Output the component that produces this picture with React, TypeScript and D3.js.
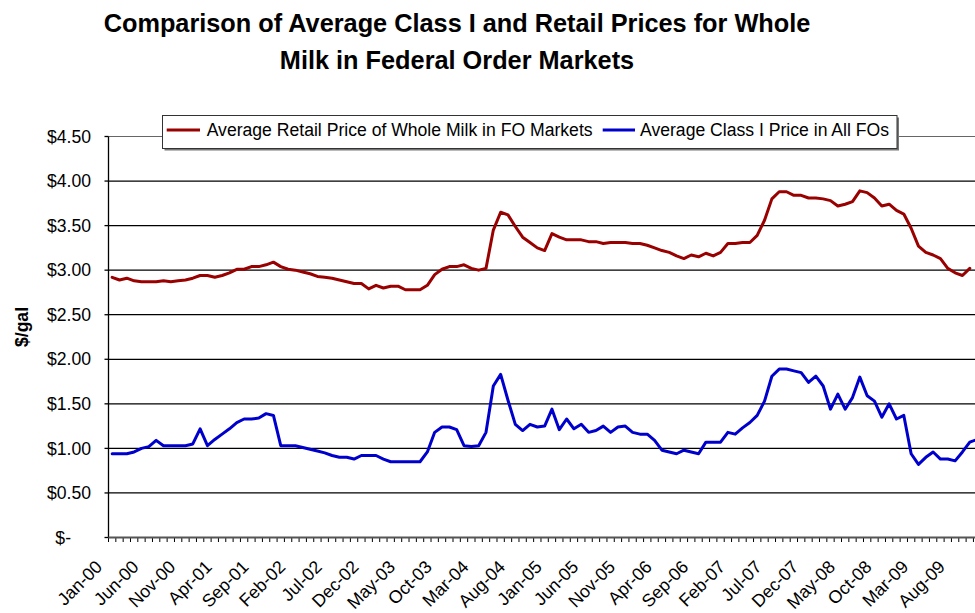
import React from "react";
import * as d3 from "d3";

const startMonth = new Date(2000, 0, 1);
const monthCount = 120;

const retailPrice = [
  2.92, 2.89, 2.91, 2.88, 2.87, 2.87, 2.87, 2.88, 2.87, 2.88,
  2.89, 2.91, 2.94, 2.94, 2.92, 2.94, 2.97, 3.01, 3.01, 3.04,
  3.04, 3.06, 3.09, 3.04, 3.01, 3.0, 2.98, 2.96, 2.93, 2.92,
  2.91, 2.89, 2.87, 2.85, 2.85, 2.79, 2.83, 2.8, 2.82, 2.82,
  2.78, 2.78, 2.78, 2.83, 2.95, 3.01, 3.04, 3.04, 3.06, 3.02,
  3.0, 3.02, 3.45, 3.65, 3.62, 3.49, 3.37, 3.31, 3.25, 3.22,
  3.41, 3.37, 3.34, 3.34, 3.34, 3.32, 3.32, 3.3, 3.31, 3.31,
  3.31, 3.3, 3.3, 3.28, 3.25, 3.22, 3.2, 3.16, 3.13, 3.17,
  3.15, 3.19, 3.16, 3.2, 3.3, 3.3, 3.31, 3.31, 3.39, 3.56,
  3.8, 3.88, 3.88, 3.84, 3.84, 3.81, 3.81, 3.8, 3.78, 3.72,
  3.74, 3.77, 3.89, 3.87, 3.81, 3.72, 3.74, 3.67, 3.63, 3.47,
  3.27, 3.2, 3.17, 3.13, 3.02, 2.97, 2.94, 3.02,
];

const classIPrice = [
  0.94, 0.94, 0.94, 0.96, 1.0, 1.02, 1.09, 1.03, 1.03, 1.03,
  1.03, 1.05, 1.22, 1.03, 1.1, 1.16, 1.22, 1.29, 1.33, 1.33,
  1.34, 1.39, 1.37, 1.03, 1.03, 1.03, 1.01, 0.99, 0.97, 0.95,
  0.92, 0.9, 0.9, 0.88, 0.92, 0.92, 0.92, 0.88, 0.85, 0.85,
  0.85, 0.85, 0.85, 0.96, 1.18, 1.24, 1.24, 1.21, 1.03, 1.02,
  1.03, 1.18, 1.7, 1.83, 1.54, 1.27, 1.2, 1.27, 1.24, 1.25,
  1.44, 1.21, 1.33, 1.22, 1.27, 1.18, 1.2, 1.25, 1.18, 1.24,
  1.25, 1.18, 1.16, 1.16, 1.09, 0.98, 0.96, 0.94, 0.98, 0.96,
  0.94, 1.07, 1.07, 1.07, 1.18, 1.16, 1.23, 1.29, 1.37, 1.53,
  1.81, 1.89, 1.89, 1.87, 1.85, 1.74, 1.81, 1.7, 1.44, 1.61,
  1.44, 1.57, 1.8, 1.59, 1.53, 1.35, 1.5, 1.33, 1.37, 0.94,
  0.82, 0.9, 0.96, 0.88, 0.88, 0.86, 0.96, 1.07, 1.1,
];

const yTickValues = [0, 0.5, 1, 1.5, 2, 2.5, 3, 3.5, 4, 4.5];
const yTickLabels = ["$-", "$0.50", "$1.00", "$1.50", "$2.00", "$2.50", "$3.00", "$3.50", "$4.00", "$4.50"];

const xTickLabels = [
  "Jan-00", "Jun-00", "Nov-00", "Apr-01", "Sep-01", "Feb-02", "Jul-02", "Dec-02",
  "May-03", "Oct-03", "Mar-04", "Aug-04", "Jan-05", "Jun-05", "Nov-05", "Apr-06",
  "Sep-06", "Feb-07", "Jul-07", "Dec-07", "May-08", "Oct-08", "Mar-09", "Aug-09",
];
const xLabelEvery = 5;

const seriesNames = ["Average Retail Price of Whole Milk in FO Markets", "Average Class I Price in All FOs"];
const seriesColors = ["#990000", "#0000cc"];

const W = 975;
const H = 613;
const FONT = "'Liberation Sans', Arial, Helvetica, sans-serif";

export default function App() {
  const months = d3.range(monthCount).map((i) => d3.timeMonth.offset(startMonth, i));
  const step = 7.33;
  const plotLeft = 108.5;
  const x = d3
    .scaleBand<number>()
    .domain(d3.range(monthCount))
    .range([plotLeft, plotLeft + step * monthCount])
    .paddingInner(0)
    .paddingOuter(0);
  const cx = (i: number) => (x(i) as number) + x.bandwidth() / 2;
  const y = d3.scaleLinear().domain([0, 4.5]).range([537.5, 136.5]);

  const line = d3
    .line<number>()
    .x((_, i) => cx(i))
    .y((d) => y(d))
    .curve(d3.curveLinear);

  const series = [retailPrice, classIPrice];

  return (
    <svg
      width={W}
      height={H}
      viewBox={`0 0 ${W} ${H}`}
      style={{ position: "absolute", left: 0, top: 0, display: "block", background: "#fff" }}
      fontFamily={FONT}
    >
      <rect x={0} y={0} width={W} height={H} fill="#fff" />
      {/* Title */}
      <text x={457} y={32} textAnchor="middle" fontSize={25.3} fontWeight="bold" fill="#000">
        Comparison of Average Class I and Retail Prices for Whole
      </text>
      <text x={457} y={69} textAnchor="middle" fontSize={25.3} fontWeight="bold" fill="#000">
        Milk in Federal Order Markets
      </text>

      {/* Plot border top */}
      <line x1={plotLeft} x2={W + 20} y1={y(4.5)} y2={y(4.5)} stroke="#666" strokeWidth={1.2} />

      {/* Gridlines */}
      {yTickValues
        .filter((v) => v > 0 && v < 4.5)
        .map((v) => (
          <line key={v} x1={plotLeft} x2={W + 20} y1={y(v)} y2={y(v)} stroke="#000" strokeWidth={1.3} />
        ))}

      {/* Y axis */}
      <line x1={plotLeft} x2={plotLeft} y1={y(4.5)} y2={y(0)} stroke="#000" strokeWidth={1.3} />
      {yTickValues.map((v, i) => (
        <g key={v}>
          <line x1={plotLeft - 4} x2={plotLeft} y1={y(v)} y2={y(v)} stroke="#000" strokeWidth={1.3} />
          <text
            x={v === 0 ? 71 : 91}
            y={y(v)}
            dy="0.35em"
            textAnchor="end"
            fontSize={17.6}
            fill="#000"
          >
            {yTickLabels[i]}
          </text>
        </g>
      ))}
      <text
        transform={`translate(28,${327}) rotate(-90)`}
        textAnchor="middle"
        fontSize={17.6}
        fontWeight="bold"
        fill="#000"
      >
        $/gal
      </text>

      {/* X axis */}
      {d3.range(monthCount + 1).map((k) => {
        const tx = plotLeft + k * x.bandwidth();
        return <line key={k} x1={tx} x2={tx} y1={y(0)} y2={y(0) + 4.5} stroke="#000" strokeWidth={1} />;
      })}
      <line x1={plotLeft} x2={W + 20} y1={y(0)} y2={y(0)} stroke="#555" strokeWidth={2} />
      {xTickLabels.map((lab, j) => {
        const i = j * xLabelEvery;
        const px = cx(i) - 9;
        const py = 568;
        return (
          <text
            key={lab}
            transform={`translate(${px},${py}) rotate(-45)`}
            textAnchor="end"
            fontSize={17.8}
            fill="#000"
          >
            {lab}
          </text>
        );
      })}

      {/* Lines */}
      {series.map((s, k) => (
        <path
          key={k}
          d={line(s) || ""}
          fill="none"
          stroke={seriesColors[k]}
          strokeWidth={3}
          strokeLinejoin="round"
          strokeLinecap="round"
        />
      ))}

      {/* Legend */}
      <rect x={164.5} y={117.5} width={734.5} height={33} fill="#777" />
      <rect x={162.5} y={115.5} width={734.5} height={33} fill="#fff" stroke="#333" strokeWidth={1} />
      <line x1={166.7} x2={200} y1={130} y2={130} stroke={seriesColors[0]} strokeWidth={3} />
      <text x={206.7} y={130} dy="0.35em" fontSize={17.6} fill="#000">
        {seriesNames[0]}
      </text>
      <line x1={602.7} x2={635} y1={130} y2={130} stroke={seriesColors[1]} strokeWidth={3} />
      <text x={640} y={130} dy="0.35em" fontSize={17.6} fill="#000">
        {seriesNames[1]}
      </text>
      <desc>{months.length}</desc>
    </svg>
  );
}
